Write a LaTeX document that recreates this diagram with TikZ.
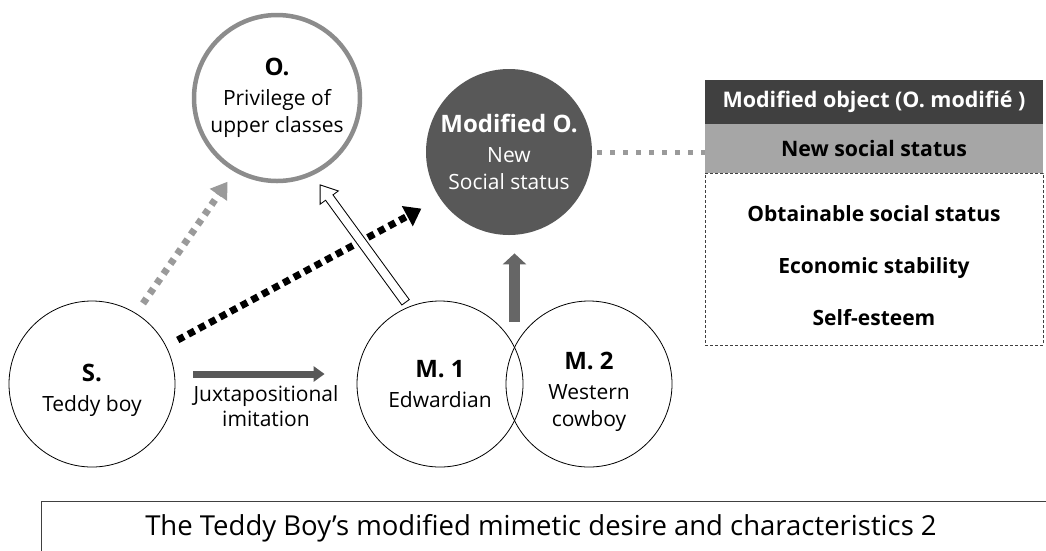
\documentclass[tikz,border=0pt]{standalone}
\usepackage{fontspec}
\setmainfont{Open Sans}
\newfontfamily\capfont{Open Sans}
\usepackage{tikz}
\usetikzlibrary{arrows.meta,positioning,calc}
\definecolor{ring}{HTML}{8C8C8C}
\definecolor{dark}{HTML}{585858}
\definecolor{head}{HTML}{404040}
\definecolor{band}{HTML}{A6A6A6}
\definecolor{dots}{HTML}{9A9A9A}
\definecolor{shaft}{HTML}{666666}
\newcommand{\hd}[1]{{\fontsize{24}{30}\selectfont\bfseries #1}}
\newcommand{\dn}[1]{\rule{0pt}{#1}}

\begin{document}
\begin{tikzpicture}[x=1pt, y=-1pt, node distance=0pt, every node/.style={font=\fontsize{21}{27}\selectfont}, circ/.style={draw, circle, minimum size=166pt, inner sep=0pt, align=center, line width=0.8pt}, cell/.style={minimum width=338pt, inner sep=0pt, outer sep=0pt, align=center, font=\fontsize{21}{52}\selectfont\bfseries}, greydots/.style={dots, line width=7pt, dash pattern=on 6pt off 6pt, -{Triangle[length=16pt,width=20pt]}}, blackdots/.style={black, line width=7pt, dash pattern=on 7pt off 5pt, -{Triangle[length=16pt,width=22pt]}}, juxt/.style={dark, line width=7pt, -{Triangle[length=11pt,width=15pt]}}, uparr/.style={shaft, line width=11pt, -{Triangle[length=11pt,width=23pt]}}, link/.style={dots, line width=5pt, dash pattern=on 5pt off 8pt}]
\useasboundingbox (0,0) rectangle (1046,550);
% circles
\node[circ, draw=ring, line width=4.5pt] (obj) at (277,98) {\hd{O.}\\[3pt]Privilege of\\upper classes};
\node[circ, draw=none, fill=dark, text=white] (mod) at (509,152) {\hd{Modified O.}\\[3pt]New\\Social status};
\node[circ] (sub) at (92,384) {\dn{29.5pt}\hd{S.}\\[3pt]Teddy boy};
\node[circ] (m1) at (440,384) {\hd{M. 1}\\[3pt]Edwardian};
\node[circ] (m2) at (589,384) {\dn{33.5pt}\hd{M. 2}\\[3pt]Western\\cowboy};
% table on the right
\node[cell, fill=head, text=white, minimum height=44pt, font=\fontsize{21.5}{24}\selectfont\bfseries] (hdr) at (874,102) {Modified object (O. modifié )};
\node[cell, fill=band, minimum height=49pt, font=\fontsize{21.3}{24}\selectfont\bfseries, below=of hdr] (band) {New social status};
\node[cell, draw=head, line width=0.8pt, dash pattern=on 3pt off 2pt, minimum height=172pt, below=of band] (list) {\dn{30pt}Obtainable social status\\Economic stability\\Self-esteem};
% arrows
\draw[greydots, shorten <=12pt, shorten >=12pt] (sub.58) -- (obj.240);
\draw[blackdots, shorten <=13pt, shorten >=21pt] (sub.27) -- (mod.214);
\draw[line width=10pt, -{Triangle[length=17pt,width=23pt]}, shorten <=5pt, shorten >=11pt] (m1.112) -- (obj.295);
\draw[white, line width=8pt, -{Triangle[length=14.2pt,width=19.2pt]}, shorten <=6pt, shorten >=12.8pt] (m1.112) -- (obj.295);
\coordinate (mid) at ($(m1.center)!0.5!(m2.center)$);
\draw[uparr, shorten <=62pt, shorten >=18pt] (mid) -- (mid |- mod.south);
\draw[juxt, shorten <=18pt, shorten >=32pt] ([yshift=10pt]sub.east) -- ([yshift=10pt]m1.west) node[midway, below=5pt, align=center, text=black, font=\fontsize{21}{25}\selectfont] (jux) {Juxtapositional\\imitation};
\draw[link, shorten <=5pt] (mod.east) -- (mod.east -| band.west);
% caption
\begin{scope}
\clip (0,0) rectangle (1046,550);
\draw[line width=1pt, head] (41,501) rectangle (1080,600);
\end{scope}
\node[font=\capfont\fontsize{27.5}{30}\selectfont] (cap) at (541,528) {The Teddy Boy’s modified mimetic desire and characteristics 2};
\end{tikzpicture}
\end{document}
